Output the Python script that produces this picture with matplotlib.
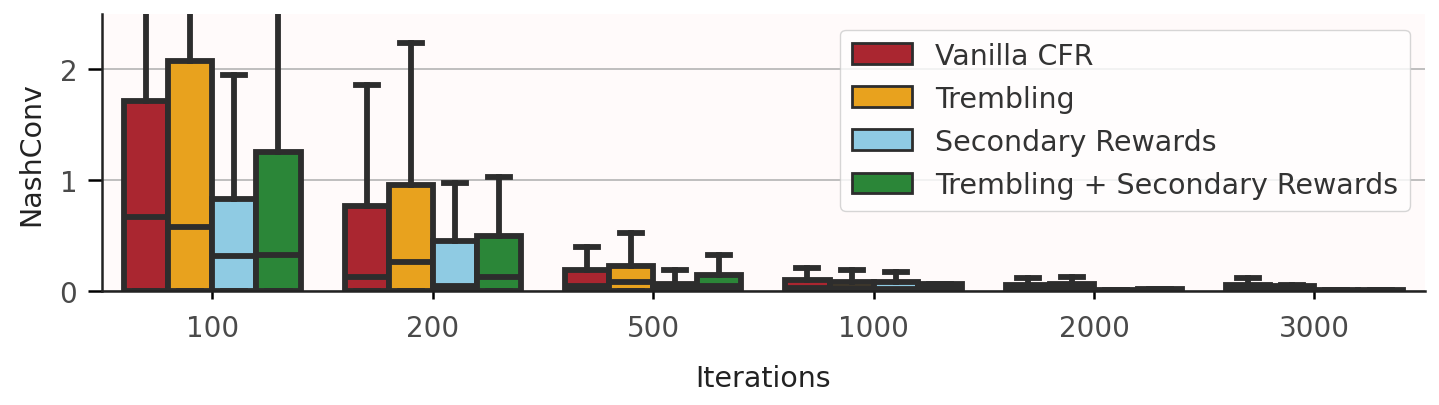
import numpy as np
import matplotlib
matplotlib.use("Agg")
import matplotlib.pyplot as plt
from matplotlib.patches import Patch

iterations = ["100", "200", "500", "1000", "2000", "3000"]
methods = ["Vanilla CFR", "Trembling", "Secondary Rewards", "Trembling + Secondary Rewards"]
colors = ["#aa2630", "#e8a21e", "#8fcbe3", "#2b8638"]

# per method, per iteration: lower quartile, median, upper quartile, whisker top
q1 = {
    "Vanilla CFR":                   [0.0, 0.0, 0.0, 0.0, 0.0, 0.0],
    "Trembling":                     [0.0, 0.0, 0.0, 0.0, 0.0, 0.0],
    "Secondary Rewards":             [0.0, 0.0, 0.0, 0.0, 0.0, 0.0],
    "Trembling + Secondary Rewards": [0.0, 0.0, 0.0, 0.0, 0.0, 0.0],
}
med = {
    "Vanilla CFR":                   [0.67, 0.13, 0.05, 0.03, 0.02, 0.02],
    "Trembling":                     [0.58, 0.26, 0.08, 0.03, 0.02, 0.02],
    "Secondary Rewards":             [0.32, 0.05, 0.02, 0.02, 0.005, 0.005],
    "Trembling + Secondary Rewards": [0.33, 0.13, 0.05, 0.02, 0.01, 0.005],
}
q3 = {
    "Vanilla CFR":                   [1.72, 0.77, 0.19, 0.10, 0.06, 0.06],
    "Trembling":                     [2.08, 0.96, 0.23, 0.08, 0.07, 0.05],
    "Secondary Rewards":             [0.83, 0.45, 0.07, 0.08, 0.01, 0.01],
    "Trembling + Secondary Rewards": [1.26, 0.50, 0.15, 0.07, 0.02, 0.01],
}
whi = {
    "Vanilla CFR":                   [3.2, 1.86, 0.40, 0.21, 0.12, 0.12],
    "Trembling":                     [3.4, 2.24, 0.53, 0.19, 0.13, 0.06],
    "Secondary Rewards":             [1.95, 0.98, 0.19, 0.17, 0.01, 0.01],
    "Trembling + Secondary Rewards": [2.9, 1.03, 0.33, 0.07, 0.02, 0.01],
}

plt.rcParams["font.family"] = ["DejaVu Sans"]
fig, ax = plt.subplots(figsize=(14.39, 4.06), dpi=100)
fig.subplots_adjust(left=0.071, right=0.99, top=0.963, bottom=0.28)
ax.set_facecolor("#fffafa")

edge = "#2d2d2d"
n = len(methods)
bw = 0.8 / n
for k, m in enumerate(methods):
    stats = []
    for i in range(len(iterations)):
        stats.append(dict(med=med[m][i], q1=q1[m][i], q3=q3[m][i],
                          whislo=q1[m][i], whishi=whi[m][i], fliers=[]))
    pos = np.arange(len(iterations)) - 0.4 + bw * (k + 0.5)
    ax.bxp(stats, positions=pos, widths=bw, patch_artist=True, showfliers=False,
           manage_ticks=False,
           boxprops=dict(facecolor=colors[k], edgecolor=edge, linewidth=4.2),
           medianprops=dict(color=edge, linewidth=4.2),
           whiskerprops=dict(color=edge, linewidth=4.2),
           capprops=dict(color=edge, linewidth=4.2))

ax.set_xlim(-0.5, len(iterations) - 0.5)
ax.set_ylim(0, 2.5)
ax.set_xticks(range(len(iterations)))
ax.set_xticklabels(iterations)
ax.set_yticks([0, 1, 2])
ax.yaxis.grid(True, color="#b4b4b4", linewidth=1.2)
ax.set_axisbelow(True)
for s in ["top", "right"]:
    ax.spines[s].set_visible(False)
for s in ["left", "bottom"]:
    ax.spines[s].set_linewidth(1.8)
    ax.spines[s].set_color("#222222")
ax.tick_params(axis="y", length=10, width=1.8, labelsize=20, labelcolor="#4a4a4a", pad=8)
ax.tick_params(axis="x", length=6, width=1.8, labelsize=20, labelcolor="#4a4a4a", pad=10)
ax.set_xlabel("Iterations", fontsize=20.5, color="#222222", labelpad=16)
ax.set_ylabel("NashConv", fontsize=20.5, color="#222222", labelpad=10)

handles = [Patch(facecolor=c, edgecolor=edge, linewidth=2, label=m) for c, m in zip(colors, methods)]
leg = ax.legend(handles=handles, loc="upper right", bbox_to_anchor=(0.9995, 0.995), fontsize=20.5,
                frameon=True, edgecolor="#cccccc", handlelength=2.1, handleheight=0.75,
                labelspacing=0.53, borderpad=0.42, handletextpad=0.8, fancybox=True)
for t in leg.get_texts():
    t.set_color("#333333")

fig.savefig("out.png", dpi=100)
